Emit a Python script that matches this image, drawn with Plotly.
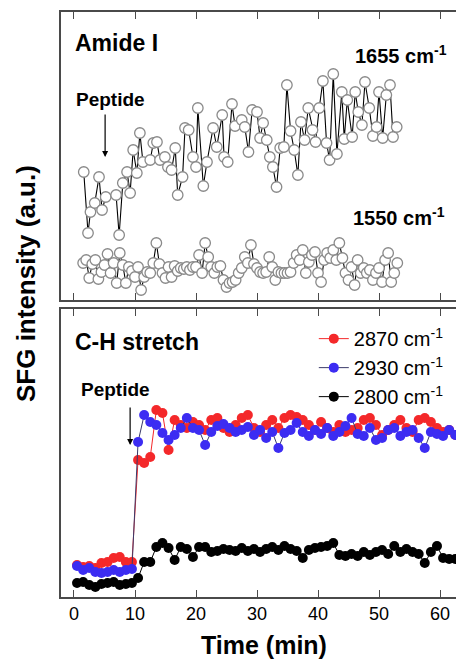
import numpy as np
import plotly.graph_objects as go

# ---------------- Amide I panel (top) ----------------
t_1655 = [1.6, 2.3, 2.7, 3.4, 4.1, 4.6, 5.2, 6.9, 7.4, 8.0, 8.7, 9.2, 9.7, 10.3, 10.8, 11.3,
          12.5, 13.0, 13.6, 14.1, 14.9, 15.4, 16.0, 16.6, 17.0, 17.8, 18.2, 18.8, 19.5, 20.0,
          20.3, 21.2, 21.8, 22.8, 23.4, 24.3, 24.6, 25.2, 25.9, 26.4, 27.5, 28.0, 28.6, 29.2,
          30.0, 30.5, 31.0, 31.6, 32.1, 32.6, 33.2, 33.8, 34.4, 34.9, 35.5, 36.1, 36.7, 37.2,
          37.8, 38.4, 39.1, 39.6, 40.2, 40.8, 41.4, 41.9, 42.5, 43.1, 43.9, 44.3, 44.8, 45.6,
          46.1, 46.6, 47.2, 47.7, 48.4, 49.0, 49.6, 50.0, 50.6, 51.2, 51.8, 52.3, 52.9]
v_1655 = [128, 67, 88, 97, 123, 90, 103, 105, 65, 117, 128, 107, 150, 127, 167, 138,
          140, 157, 158, 140, 143, 133, 130, 152, 105, 123, 172, 170, 143, 133,
          192, 114, 138, 172, 153, 185, 143, 138, 196, 174, 180, 173, 148, 190,
          188, 162, 177, 160, 143, 133, 113, 152, 153, 215, 169, 150, 125, 178,
          160, 192, 170, 158, 192, 219, 157, 140, 226, 146, 208, 161, 200, 163,
          208, 188, 175, 218, 192, 164, 173, 208, 162, 205, 215, 163, 173]

t_1550 = np.arange(1.5, 53.01, 0.5)
v_1550 = [37, 40, 22, 36, 40, 21, 28, 35, 46, 27, 37, 17, 47, 35, 17, 33, 29, 23, 33, 10,
          23, 28, 27, 37, 57, 36, 27, 22, 33, 23, 34, 29, 32, 31, 33, 30, 33, 33, 45, 27,
          57, 43, 33, 27, 33, 34, 20, 13, 17, 18, 20, 27, 32, 43, 37, 55, 36, 32, 28, 27,
          28, 43, 33, 20, 28, 27, 27, 27, 28, 37, 45, 40, 50, 27, 38, 45, 48, 27, 18, 40,
          47, 42, 50, 40, 57, 42, 27, 20, 33, 15, 40, 27, 32, 27, 30, 20, 27, 32, 18, 40,
          47, 18, 27, 37][:len(t_1550)]

# ---------------- C-H stretch panel (bottom) ----------------
t_ch = np.arange(0.5, 62.51, 1.0)
v_2870 = [32, 30, 31, 29, 34, 35, 39, 40, 35, 35,
          137, 134, 140, 187, 184, 147, 177, 172, 169, 175,
          172, 167, 177, 179, 169, 165, 172, 179, 182, 169,
          165, 172, 177, 169, 179, 182, 180, 177, 172, 167,
          175, 169, 165, 172, 165, 167, 169, 177, 179, 172,
          162, 167, 172, 177, 169, 165, 177, 179, 175, 169,
          165, 167, 162]
v_2930 = [31, 27, 29, 25, 24, 25, 27, 25, 27, 28,
          155, 182, 175, 172, 164, 157, 162, 169, 179, 169,
          167, 152, 165, 171, 173, 169, 165, 167, 170, 162,
          167, 159, 165, 149, 164, 167, 174, 165, 161, 167,
          163, 169, 161, 165, 171, 179, 163, 161, 169, 157,
          159, 167, 169, 161, 165, 167, 159, 149, 165, 163,
          161, 167, 162]
v_2800 = [14, 15, 12, 10, 13, 14, 15, 12, 13, 14,
          19, 35, 35, 50, 54, 49, 37, 50, 48, 40,
          50, 50, 45, 46, 48, 47, 46, 49, 46, 48,
          45, 48, 50, 47, 51, 48, 46, 39, 47, 49,
          50, 51, 54, 42, 41, 43, 41, 45, 42, 45,
          47, 43, 51, 45, 48, 45, 43, 34, 45, 51,
          39, 38, 38]

x_ticks = [0, 10, 20, 30, 40, 50, 60]

FONT = "Liberation Sans, Arial, sans-serif"
FRAME = "#4a4a4a"

fig = go.Figure()

# top panel traces
for tt, vv in [(t_1655, v_1655), (t_1550, v_1550)]:
    fig.add_trace(go.Scatter(
        x=tt, y=vv, mode="lines+markers", xaxis="x2", yaxis="y2", showlegend=False,
        line=dict(color="black", width=1.1),
        marker=dict(symbol="circle", size=10.5, color="white",
                    line=dict(color="#8a8a8a", width=1.3)),
    ))

# bottom panel traces
for name, vv, col, lcol in [("2870 cm<sup>-1</sup>", v_2870, "#f4282a", "#f4282a"),
                            ("2930 cm<sup>-1</sup>", v_2930, "#3c2cf2", "#3a3a6a"),
                            ("2800 cm<sup>-1</sup>", v_2800, "black", "black")]:
    fig.add_trace(go.Scatter(
        x=t_ch, y=vv, mode="lines+markers", name=name, xaxis="x", yaxis="y",
        line=dict(color=lcol, width=1),
        marker=dict(symbol="circle", size=10, color=col, line=dict(width=0)),
    ))

axis_common = dict(range=[-2.13, 62.62], tickvals=x_ticks, ticks="inside", ticklen=7,
                   tickwidth=1.2, tickcolor=FRAME, showline=True, linecolor=FRAME,
                   linewidth=1.6, mirror="ticks", showgrid=False, zeroline=False)
yaxis_common = dict(range=[0, 288], showline=True, linecolor=FRAME, linewidth=1.6,
                    showticklabels=False, ticks="", showgrid=False, zeroline=False)

ann = []
def txt(s, xp, yp, size, bold=True, xanchor="left"):
    ann.append(dict(text=("<b>%s</b>" % s) if bold else s, x=xp, y=yp, xref="paper",
                    yref="paper", xanchor=xanchor, yanchor="middle", showarrow=False,
                    font=dict(family=FONT, size=size, color="black")))

txt("Amide I", 0.030, 0.947, 23)
txt("1655 cm<sup>-1</sup>", 0.740, 0.927, 20)
txt("1550 cm<sup>-1</sup>", 0.733, 0.650, 20)
txt("Peptide", 0.034, 0.851, 19)
txt("C-H stretch", 0.030, 0.436, 23)
txt("Peptide", 0.046, 0.354, 19)
txt("Time (min)", 0.514, -0.082, 25, xanchor="center")
ann.append(dict(text="<b>SFG intensity (a.u.)</b>", x=-0.0886, y=0.535, xref="paper",
                yref="paper", textangle=-90, showarrow=False, xanchor="center",
                yanchor="middle", font=dict(family=FONT, size=26, color="black")))

# arrows
ann.append(dict(x=5.1, y=143, xref="x2", yref="y2", ax=0, ay=-44, text="", showarrow=True,
                arrowhead=2, arrowsize=1, arrowwidth=1.2, arrowcolor="black"))
ann.append(dict(x=9.2, y=152, xref="x", yref="y", ax=0, ay=-39, text="", showarrow=True,
                arrowhead=2, arrowsize=1, arrowwidth=1.2, arrowcolor="black"))

fig.update_layout(
    width=456, height=660,
    margin=dict(l=61, r=0, t=12, b=63),
    paper_bgcolor="white", plot_bgcolor="white",
    font=dict(family=FONT, size=18, color="black"),
    xaxis=dict(axis_common, anchor="y", showticklabels=True,
               tickfont=dict(family=FONT, size=18, color="black")),
    xaxis2=dict(axis_common, anchor="y2", matches="x", showticklabels=False),
    yaxis=dict(yaxis_common, domain=[0, 0.4923]),
    yaxis2=dict(yaxis_common, domain=[0.5077, 1]),
    legend=dict(x=0.64, y=0.475, xanchor="left", yanchor="top",
                bgcolor="rgba(0,0,0,0)", font=dict(family=FONT, size=20, color="black"),
                tracegroupgap=0, itemwidth=30),
    annotations=ann,
)

fig.write_html("out.html")
